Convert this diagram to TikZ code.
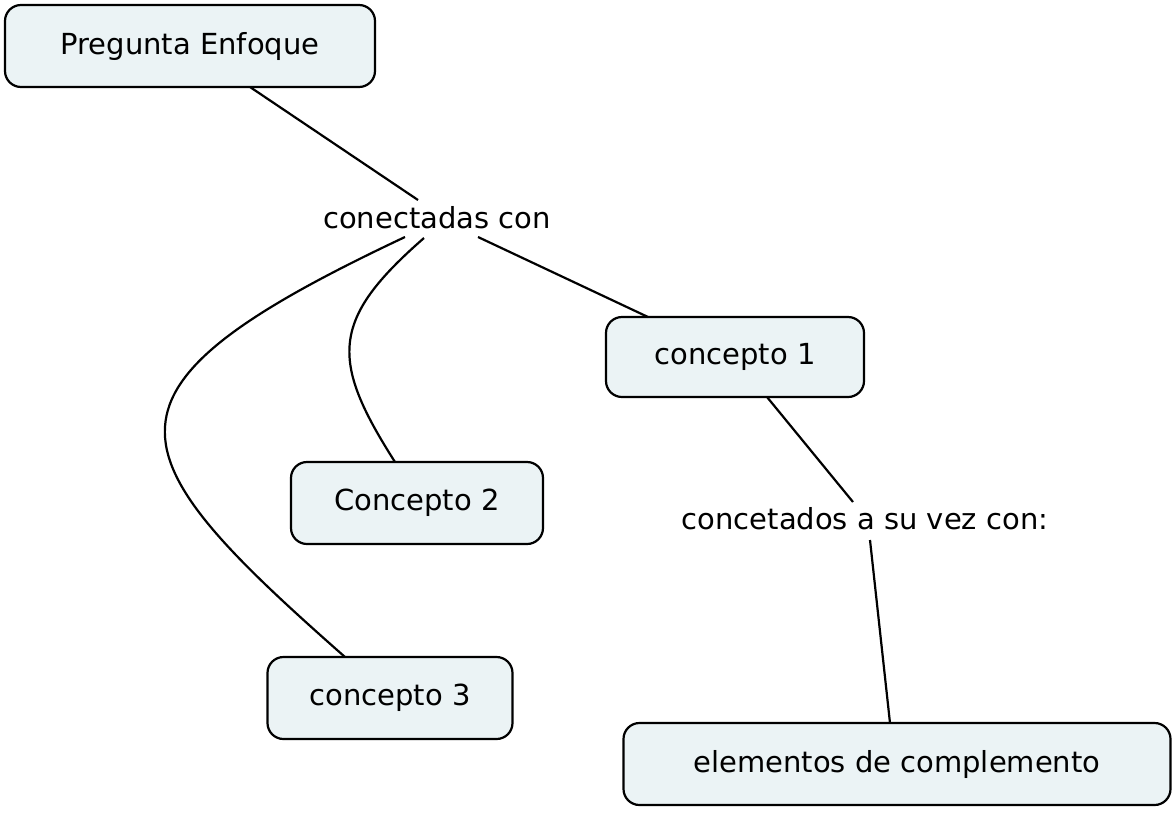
\documentclass[tikz,border=0pt]{standalone}
\usepackage{fontspec}
\setmainfont{DejaVu Sans}
\definecolor{boxfill}{HTML}{EBF3F5}
\begin{document}
\begin{tikzpicture}[x=1pt,y=-1pt,
  concept/.style={draw=black,fill=boxfill,line width=2.2pt,rounded corners=16pt,inner sep=0pt,font=\fontsize{29}{34}\selectfont},
  lbl/.style={inner sep=0pt,font=\fontsize{29}{34}\selectfont},
  conn/.style={line width=2.2pt}]
\useasboundingbox (0,0) rectangle (1176,812);
\node[concept,minimum width=370pt,minimum height=82pt] (pe) at (190,46) {Pregunta Enfoque};
\node[lbl] (cc) at (437,218) {conectadas con};
\node[concept,minimum width=258pt,minimum height=80pt] (c1) at (735,357) {concepto 1};
\node[concept,minimum width=252pt,minimum height=82pt] (c2) at (417,503) {Concepto 2};
\node[concept,minimum width=245pt,minimum height=82pt] (c3) at (390,698) {concepto 3};
\node[lbl] (cv) at (865,519) {concetados a su vez con:};
\node[concept,minimum width=547pt,minimum height=82pt] (el) at (897,764) {elementos de complemento};
\coordinate (a1) at (250,87); \coordinate (a2) at (418,200);
\draw[conn] (a1) -- (a2);
\coordinate (b1) at (478,237); \coordinate (b2) at (648,317);
\draw[conn] (b1) -- (b2);
\coordinate (d1) at (424,238); \coordinate (d2) at (395,462);
\draw[conn] (d1) .. controls (330,320) and (330,360) .. (d2);
\coordinate (e1) at (405,237); \coordinate (e2) at (345,657);
\draw[conn] (e1) .. controls (80,390) and (110,450) .. (e2);
\coordinate (f1) at (767,397); \coordinate (f2) at (853,502);
\draw[conn] (f1) -- (f2);
\coordinate (g1) at (870,540); \coordinate (g2) at (890,723);
\draw[conn] (g1) -- (g2);
\end{tikzpicture}
\end{document}
